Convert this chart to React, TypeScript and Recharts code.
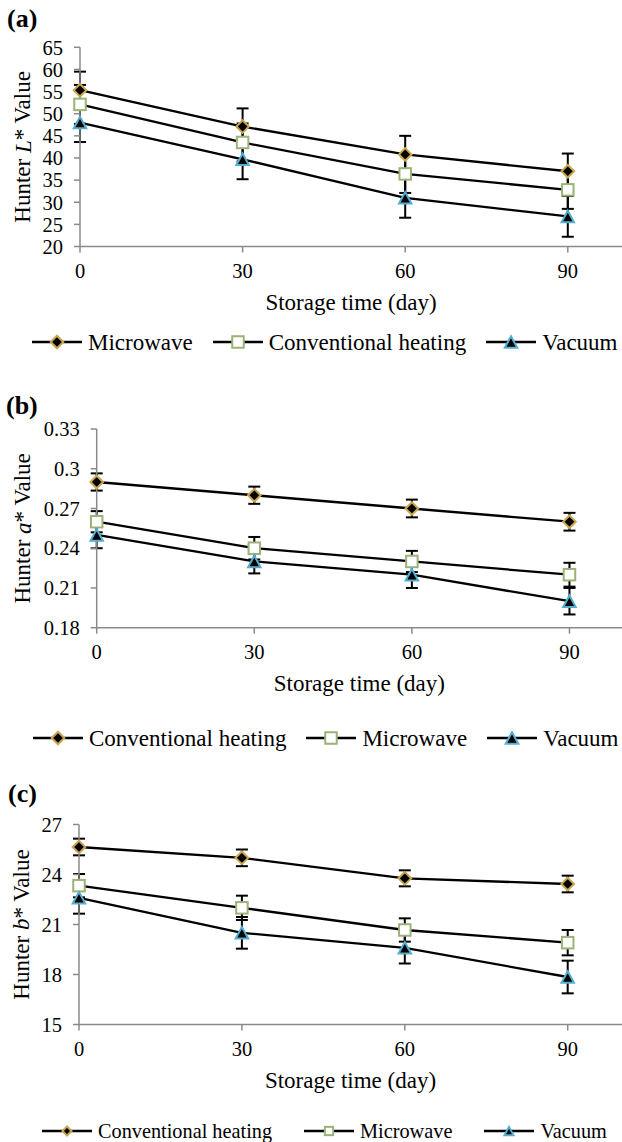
import React from 'react';
import { LineChart, Line, XAxis, YAxis, ErrorBar } from 'recharts';

const days = [0, 30, 60, 90];
const xTicks = [0, 30, 60, 90];

// Panel (a) Hunter L*
const aNames = ['Microwave', 'Conventional heating', 'Vacuum'];
const aMicrowave = [55.3, 47.1, 40.8, 37.0];
const aMicrowaveErr = [4.2, 4.1, 4.2, 4.0];
const aConventional = [52.1, 43.5, 36.4, 32.8];
const aConventionalErr = [4.4, 4.3, 4.3, 4.3];
const aVacuum = [48.0, 39.7, 31.0, 26.8];
const aVacuumErr = [4.4, 4.5, 4.5, 4.6];
const aTicks = [20, 25, 30, 35, 40, 45, 50, 55, 60, 65];

// Panel (b) Hunter a*
const bNames = ['Conventional heating', 'Microwave', 'Vacuum'];
const bConventional = [0.29, 0.28, 0.27, 0.26];
const bConventionalErr = [0.0065, 0.0065, 0.0067, 0.0067];
const bMicrowave = [0.26, 0.24, 0.23, 0.22];
const bMicrowaveErr = [0.008, 0.0085, 0.008, 0.009];
const bVacuum = [0.25, 0.23, 0.22, 0.2];
const bVacuumErr = [0.01, 0.009, 0.01, 0.01];
const bTicks = [0.18, 0.21, 0.24, 0.27, 0.3, 0.33];

// Panel (c) Hunter b*
const cNames = ['Conventional heating', 'Microwave', 'Vacuum'];
const cConventional = [25.65, 25.0, 23.77, 23.43];
const cConventionalErr = [0.5, 0.5, 0.48, 0.5];
const cMicrowave = [23.33, 22.0, 20.67, 19.91];
const cMicrowaveErr = [0.7, 0.73, 0.7, 0.76];
const cVacuum = [22.6, 20.5, 19.6, 17.85];
const cVacuumErr = [0.95, 0.95, 0.94, 0.98];
const cTicks = [15, 18, 21, 24, 27];

const FONT = '"Liberation Serif", "Times New Roman", serif';
const GOLD = '#C8A74E';
const GREEN = '#9BB377';
const BLUE = '#55AED0';
const AXIS = '#8A8A8A';

const build = (s1: number[], e1: number[], s2: number[], e2: number[], s3: number[], e3: number[]) =>
  days.map((d, i) => ({ day: d, s1: s1[i], e1: e1[i], s2: s2[i], e2: e2[i], s3: s3[i], e3: e3[i] }));

const aData = build(aMicrowave, aMicrowaveErr, aConventional, aConventionalErr, aVacuum, aVacuumErr);
const bData = build(bConventional, bConventionalErr, bMicrowave, bMicrowaveErr, bVacuum, bVacuumErr);
const cData = build(cConventional, cConventionalErr, cMicrowave, cMicrowaveErr, cVacuum, cVacuumErr);

function Diamond({ cx, cy, r = 6.3 }: any) {
  return (
    <polygon
      points={`${cx},${cy - r} ${cx + r},${cy} ${cx},${cy + r} ${cx - r},${cy}`}
      fill="#000"
      stroke={GOLD}
      strokeWidth={2}
    />
  );
}
function Square({ cx, cy, s = 11.5 }: any) {
  return <rect x={cx - s / 2} y={cy - s / 2} width={s} height={s} fill="#fff" stroke={GREEN} strokeWidth={2} />;
}
function Triangle({ cx, cy, w = 12.5, h = 11.5 }: any) {
  return (
    <polygon
      points={`${cx},${cy - h / 2} ${cx + w / 2},${cy + h / 2} ${cx - w / 2},${cy + h / 2}`}
      fill="#000"
      stroke={BLUE}
      strokeWidth={2}
    />
  );
}
const shapes = [Diamond, Square, Triangle];

const yLabel = (letter: string, dx: number) => (props: any) => {
  const vb = props.viewBox || { x: 0, y: 0, width: 0, height: 0 };
  const x = vb.x + dx;
  const y = vb.y + vb.height / 2;
  return (
    <text
      x={x}
      y={y}
      transform={`rotate(-90 ${x} ${y})`}
      textAnchor="middle"
      dominantBaseline="central"
      fontFamily={FONT}
      fontSize={23}
      fill="#000"
    >
      Hunter <tspan fontStyle="italic">{letter}</tspan>* Value
    </text>
  );
};

function Panel({ top, height, mTop, mBottom, yWidth, data, domain, ticks, letter, labelDx }: any) {
  const keys = ['s1', 's2', 's3'];
  const errs = ['e1', 'e2', 'e3'];
  return (
    <div style={{ position: 'absolute', left: 0, top, width: 622, height }}>
      <LineChart width={622} height={height} data={data} margin={{ top: mTop, right: 0, bottom: mBottom, left: 0 }}>
        <XAxis
          dataKey="day"
          type="number"
          domain={[0, 100]}
          ticks={xTicks}
          height={70}
          tickSize={6}
          tickMargin={11}
          axisLine={{ stroke: AXIS, strokeWidth: 1.5 }}
          tickLine={{ stroke: AXIS, strokeWidth: 1.5 }}
          tick={{ fill: '#000', fontSize: 20.5, fontFamily: FONT }}
          label={{ value: 'Storage time (day)', position: 'insideBottom', offset: 7, fill: '#000', fontSize: 23, fontFamily: FONT }}
        />
        <YAxis
          type="number"
          domain={domain}
          ticks={ticks}
          width={yWidth}
          tickSize={6}
          tickMargin={11}
          interval={0}
          axisLine={{ stroke: AXIS, strokeWidth: 1.5 }}
          tickLine={{ stroke: AXIS, strokeWidth: 1.5 }}
          tick={{ fill: '#000', fontSize: 20.5, fontFamily: FONT }}
          label={yLabel(letter, labelDx)}
        />
        {keys.map((k, si) => {
          const Shape = shapes[si];
          return (
            <Line
              key={k}
              dataKey={k}
              type="linear"
              stroke="#000"
              strokeWidth={2.3}
              isAnimationActive={false}
              activeDot={false}
              dot={(p: any) => <Shape key={`${k}-${p.index}`} cx={p.cx} cy={p.cy} />}
            >
              <ErrorBar dataKey={errs[si]} width={6} stroke="#000" strokeWidth={2} direction="y" isAnimationActive={false} />
            </Line>
          );
        })}
      </LineChart>
    </div>
  );
}

function LegendRow({ top, left, names, fontSize, gap, small }: any) {
  return (
    <div
      style={{
        position: 'absolute',
        top,
        left,
        height: 24,
        display: 'flex',
        alignItems: 'center',
        fontFamily: FONT,
        fontSize,
        lineHeight: 1,
        whiteSpace: 'nowrap',
        color: '#000',
      }}
    >
      {names.map((n: string, i: number) => {
        const Shape = shapes[i];
        const sz = small ? 0.72 : 1;
        return (
          <div key={n} style={{ display: 'flex', alignItems: 'center', marginRight: i < names.length - 1 ? gap : 0 }}>
            <svg width={50} height={20} style={{ display: 'block' }}>
              <line x1={0} y1={10} x2={50} y2={10} stroke="#000" strokeWidth={2.5} />
              {i === 0 && <Diamond cx={25} cy={10} r={6.3 * sz} />}
              {i === 1 && <Square cx={25} cy={10} s={11.5 * sz} />}
              {i === 2 && <Triangle cx={25} cy={10} w={12.5 * sz} h={11.5 * sz} />}
            </svg>
            <span style={{ marginLeft: 6 }}>{n}</span>
          </div>
        );
      })}
    </div>
  );
}

function Tag({ text, left, cy }: any) {
  return (
    <div
      style={{
        position: 'absolute',
        left,
        top: cy - 15.3,
        fontFamily: FONT,
        fontWeight: 'bold',
        fontSize: 26,
        lineHeight: '26px',
        color: '#000',
      }}
    >
      {text}
    </div>
  );
}

export default function App() {
  return (
    <div style={{ position: 'absolute', left: 0, top: 0, width: 622, height: 1142, overflow: 'hidden', background: '#fff' }}>
      <Tag text="(a)" left={7} cy={21.7} />
      <Panel top={0} height={330} mTop={47.3} mBottom={13.5} yWidth={80} data={aData} domain={[20, 65]} ticks={aTicks} letter="L" labelDx={23} />
      <LegendRow top={342 - 12} left={32} names={aNames} fontSize={23} gap={20} />

      <Tag text="(b)" left={6} cy={408.3} />
      <Panel top={370} height={330} mTop={59} mBottom={2.3} yWidth={96.7} data={bData} domain={[0.18, 0.33]} ticks={bTicks} letter="a" labelDx={23} />
      <LegendRow top={738 - 12} left={33} names={bNames} fontSize={23} gap={20} />

      <Tag text="(c)" left={8} cy={796.7} />
      <Panel top={760} height={340} mTop={64.5} mBottom={5.5} yWidth={79} data={cData} domain={[15, 27]} ticks={cTicks} letter="b" labelDx={21} />
      <LegendRow top={1131 - 12} left={42} names={cNames} fontSize={20.3} gap={32} small />
    </div>
  );
}
